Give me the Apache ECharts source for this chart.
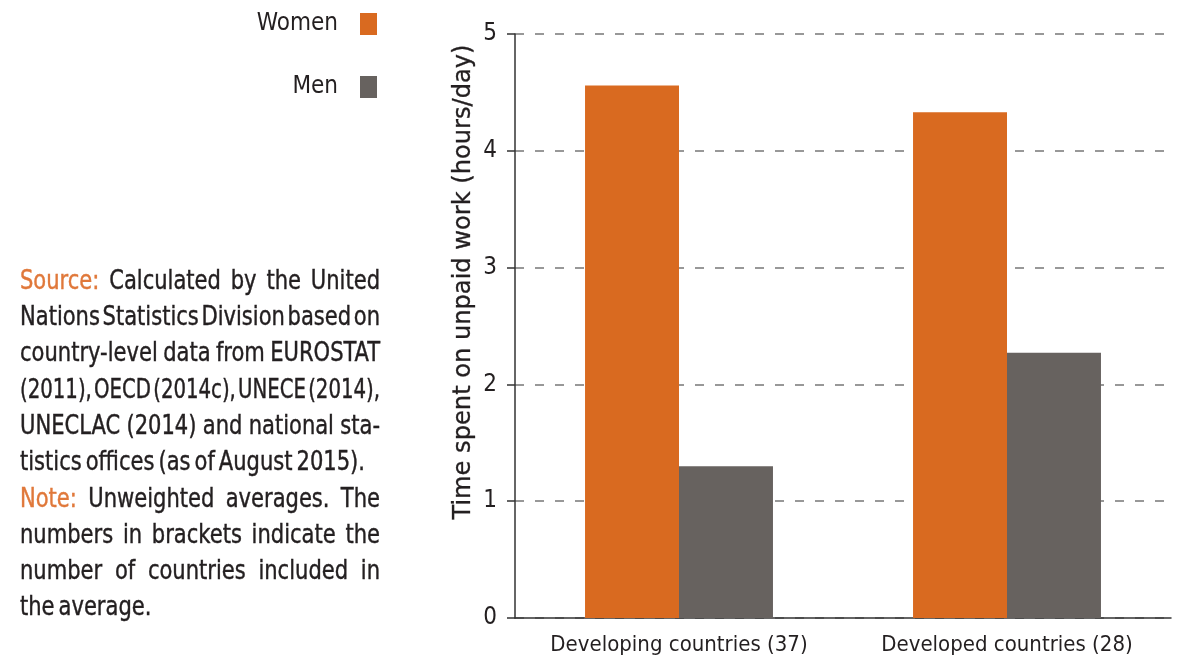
<!DOCTYPE html>
<html>
<head>
<meta charset="utf-8">
<script src="https://cdn.jsdelivr.net/npm/echarts@6/dist/echarts.min.js"></script>
<style>
html,body{margin:0;padding:0;background:#fff;}
#c{width:1178px;height:662px;}
</style>
</head>
<body>
<div id="c"></div>
<script>
const categories = ['Developing countries (37)', 'Developed countries (28)'];
const women = [4.56, 4.33];
const men = [1.30, 2.27];
const yTicks = [0, 1, 2, 3, 4, 5];
const seriesNames = ['Women', 'Men'];
const yAxisTitle = 'Time spent on unpaid work (hours/day)';
const noteLines = [
  [['Source:', true], ['Calculated by the United', false]],
  [['Nations Statistics Division based on', false]],
  [['country-level data from EUROSTAT', false]],
  [['(2011), OECD (2014c), UNECE (2014),', false]],
  [['UNECLAC (2014) and national sta-', false]],
  [['tistics offices (as of August 2015).', false, 'nojust']],
  [['Note:', true], ['Unweighted averages. The', false]],
  [['numbers in brackets indicate the', false]],
  [['number of countries included in', false]],
  [['the average.', false, 'nojust']]
];

const FONT = '"DejaVu Sans Condensed", sans-serif';
const ORANGE = '#D96A20';
const GREY = '#67625F';
const TEXT = '#231F20';

const chart = echarts.init(document.getElementById('c'));

// justified text layout for the note block
const ctx = document.createElement('canvas').getContext('2d');
const fs = 26;
ctx.font = fs + 'px ' + FONT;
const blockLeft = 20, blockRight = 380, firstBase = 291, lineH = 36.3;
const baseScale = 0.9;
const spaceW = ctx.measureText(' ').width;
const graphics = [];
noteLines.forEach((segs, li) => {
  const words = [];
  let nojust = false;
  segs.forEach(s => {
    if (s[2] === 'nojust') nojust = true;
    s[0].split(' ').forEach(w => words.push({t: w, c: s[1] ? '#E0783A' : TEXT}));
  });
  const widths = words.map(w => ctx.measureText(w.t).width);
  const total = widths.reduce((a, b) => a + b, 0);
  const n = words.length;
  const need = total + (n - 1) * spaceW * 0.35;
  const sx = Math.min(baseScale, (blockRight - blockLeft) / need);
  const gap = (!nojust && n > 1) ? (blockRight - blockLeft - sx * total) / (n - 1) : spaceW * sx * 0.6;
  let x = blockLeft;
  const y = firstBase + li * lineH - 0.346 * fs;
  words.forEach((w, i) => {
    graphics.push({
      type: 'text', x: x, y: y, scaleX: sx,
      style: {text: w.t, fill: w.c, stroke: w.c, lineWidth: 0.4,
        font: fs + 'px ' + FONT, verticalAlign: 'middle', align: 'left'}
    });
    x += sx * widths[i] + gap;
  });
});

// y axis title, fitted to the reference length
const tfs = 24;
ctx.font = tfs + 'px ' + FONT;
const titleW = ctx.measureText(yAxisTitle).width;
graphics.push({
  type: 'text', x: 464, y: 282, rotation: Math.PI / 2, scaleX: 475 / titleW,
  style: {text: yAxisTitle, fill: TEXT, stroke: TEXT, lineWidth: 0.3, font: tfs + 'px ' + FONT, align: 'center', verticalAlign: 'middle'}
});

chart.setOption({
  animation: false,
  backgroundColor: '#fff',
  textStyle: {fontFamily: FONT},
  legend: {
    orient: 'vertical', align: 'right',
    right: 801, top: 12, padding: 0,
    itemWidth: 17, itemHeight: 22, itemGap: 39,
    icon: 'rect',
    textStyle: {fontSize: 24, color: TEXT, fontFamily: FONT, padding: [0, 17, 0, 0]},
    data: seriesNames
  },
  grid: {left: 515, right: 7, top: 34, bottom: 44, containLabel: false},
  xAxis: {
    type: 'category', data: categories,
    axisLine: {lineStyle: {color: '#333', width: 1.5}},
    axisTick: {show: false},
    axisLabel: {fontSize: 22, color: TEXT, margin: 16, fontFamily: FONT, interval: 0},
  },
  yAxis: {
    type: 'value', min: 0, max: 5, interval: 1,
    axisLine: {show: true, lineStyle: {color: '#333', width: 1.5}},
    axisTick: {show: true, length: 8, lineStyle: {color: '#333', width: 1.5}},
    axisLabel: {fontSize: 24, color: TEXT, margin: 18, fontFamily: FONT,
      formatter: v => yTicks.includes(v) ? String(v) : ''},
    splitLine: {show: true, lineStyle: {color: '#777', width: 1.5, type: [9, 11]}}
  },
  series: [
    {name: seriesNames[0], type: 'bar', data: women, itemStyle: {color: ORANGE},
      barGap: '0%', barCategoryGap: '42.7%'},
    {name: seriesNames[1], type: 'bar', data: men, itemStyle: {color: GREY},
      barGap: '0%', barCategoryGap: '42.7%'}
  ],
  graphic: graphics
});
</script>
</body>
</html>
